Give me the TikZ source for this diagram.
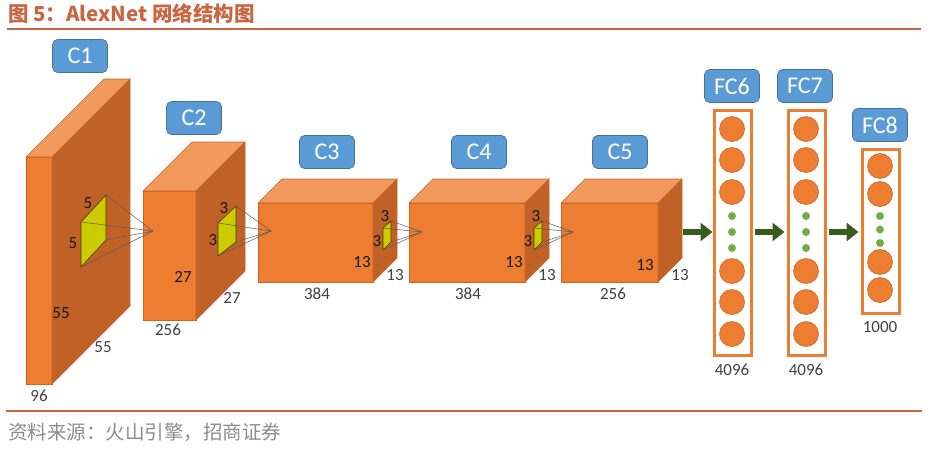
\documentclass[tikz,border=0pt]{standalone}
\usepackage{fontspec}
\setmainfont{Carlito}
\newfontfamily\cjk{Noto Sans CJK SC}
\usepackage{xcolor}
\usepackage{tikz}
\usetikzlibrary{arrows.meta,calc,positioning}
\definecolor{rulered}{RGB}{200,102,68}
\definecolor{cubefront}{RGB}{237,125,49}
\definecolor{cubeside}{RGB}{192,98,40}
\definecolor{cubetop}{RGB}{242,154,94}
\definecolor{cubeedge}{RGB}{205,100,35}
\definecolor{kernelyellow}{RGB}{204,204,0}
\definecolor{tagblue}{RGB}{91,155,213}
\definecolor{tagedge}{RGB}{65,113,156}
\definecolor{flowgreen}{RGB}{56,92,30}
\definecolor{dotgreen}{RGB}{112,173,71}
\tikzset{
	semithick,
	front/.style={fill=cubefront, draw=cubeedge, line width=0.6pt},
	side/.style={fill=cubeside, draw=cubeedge, line width=0.6pt},
	top/.style={fill=cubetop, draw=cubeedge, line width=0.6pt},
	kernel/.style={fill=kernelyellow, draw=black!70!kernelyellow, line width=0.6pt},
	ray/.style={draw=black!65, line width=0.5pt},
	tag/.style={rectangle, rounded corners=5pt, fill=tagblue, draw=tagedge, line width=0.6pt, text=white, inner sep=0pt,
		minimum width=55pt, minimum height=33pt, font=\fontsize{24}{24}\selectfont},
	dim/.style={inner sep=0pt, text=black!75, font=\fontsize{17}{17}\selectfont},
	facedim/.style={inner sep=0pt, text=black!90, font=\fontsize{17}{17}\selectfont},
	fclayer/.style={rectangle, draw=cubefront, line width=3pt, fill=white, inner sep=0pt, minimum width=37pt},
	unit/.style={circle, fill=cubefront, draw=cubeedge, line width=0.6pt, minimum size=25pt, inner sep=0pt},
	gap/.style={circle, fill=dotgreen, minimum size=8pt, inner sep=0pt},
	flow/.style={draw=flowgreen, line width=6pt, -{Triangle[length=12pt,width=18pt]}}
}
% x y w h depth
\newcommand{\cuboid}[5]{
	\filldraw[front] (#1,#2) rectangle ++(#3,#4);
	\filldraw[top] (#1,#2) -- ++(#5,-#5) -- ++(#3,0) -- ++(-#5,#5) -- cycle;
	\filldraw[side] (#1+#3,#2) -- ++(#5,-#5) -- ++(0,#4) -- ++(-#5,#5) -- cycle;
}
\begin{document}
\begin{tikzpicture}[x=1pt,y=-1pt]
	\useasboundingbox (0,0) rectangle (931,448);

	\node[anchor=west, inner sep=0pt, text=rulered, font=\cjk\bfseries\fontsize{20.5}{20.5}\selectfont] (title) at (8,14) {图 5：AlexNet 网络结构图};
	\draw[rulered, line width=2pt] (7,29) -- (921,29);
	\draw[rulered, line width=2pt] (6,411) -- (922,411);
	\node[anchor=west, inner sep=0pt, text=black!45, font=\cjk\fontsize{19.5}{19.5}\selectfont] (source) at (8,432) {资料来源：火山引擎，招商证券};

	\cuboid{26}{157}{26}{227}{78}
	\cuboid{143}{191}{53}{129}{49}
	\cuboid{258}{203}{115}{79}{24}
	\cuboid{409}{203}{116}{79}{24}
	\cuboid{561}{203}{97}{79}{24}

	\coordinate (k1a) at (81,222); \coordinate (k1b) at (106,195);
	\coordinate (k1c) at (106,240); \coordinate (k1d) at (81,267);
	\coordinate (p1) at (153,231);
	\coordinate (k2a) at (218,223); \coordinate (k2b) at (236,206);
	\coordinate (k2c) at (236,242); \coordinate (k2d) at (218,256);
	\coordinate (p2) at (271,231);
	\coordinate (k3a) at (383,228); \coordinate (k3b) at (391,221);
	\coordinate (k3c) at (391,242); \coordinate (k3d) at (383,250);
	\coordinate (p3) at (422,232);
	\coordinate (k4a) at (534,228); \coordinate (k4b) at (542,221);
	\coordinate (k4c) at (542,242); \coordinate (k4d) at (534,250);
	\coordinate (p4) at (573,232);
	\foreach \k in {1,2,3,4}{
		\filldraw[kernel] (k\k a) -- (k\k b) -- (k\k c) -- (k\k d) -- cycle;
		\foreach \c in {a,b,c,d}
			\draw[ray] (k\k\c) -- (p\k);
	}

	\node[tag] (c1) at (80,56) {C1};
	\node[tag] (c2) at (194,118) {C2};
	\node[tag] (c3) at (327,152) {C3};
	\node[tag] (c4) at (479,152) {C4};
	\node[tag] (c5) at (620,152) {C5};
	\node[tag] (fc6tag) at (732,86) {FC6};
	\node[tag] (fc7tag) at (805,86) {FC7};
	\node[tag] (fc8tag) at (880,125) {FC8};

	\node[facedim] (c1k1) at (88,203) {5};
	\node[facedim] (c1k2) at (73,243) {5};
	\node[facedim] (c1h) at (61,313) {55};
	\node[dim] (c1w) at (103,347) {55};
	\node[dim] (c1d) at (39,396) {96};
	\node[facedim] (c2k1) at (224,208) {3};
	\node[facedim] (c2k2) at (213,240) {3};
	\node[facedim] (c2h) at (183,277) {27};
	\node[dim] (c2w) at (232,298) {27};
	\node[dim] (c2d) at (168,330) {256};
	\node[facedim] (c3k1) at (385,216) {3};
	\node[facedim] (c3k2) at (377,241) {3};
	\node[facedim] (c3h) at (362,262) {13};
	\node[dim] (c3w) at (395,275) {13};
	\node[dim] (c3d) at (317,294) {384};
	\node[facedim] (c4k1) at (536,216) {3};
	\node[facedim] (c4k2) at (528,241) {3};
	\node[facedim] (c4h) at (514,262) {13};
	\node[dim] (c4w) at (547,275) {13};
	\node[dim] (c4d) at (468,294) {384};
	\node[facedim] (c5h) at (645,265) {13};
	\node[dim] (c5w) at (680,275) {13};
	\node[dim] (c5d) at (613,294) {256};

	\node[fclayer, minimum height=245pt] (fc6) at (732.5,233) {};
	\node[fclayer, minimum height=245pt] (fc7) at (806.5,233) {};
	\node[fclayer, minimum height=164pt] (fc8) at (880.5,231.5) {};
	\foreach \y in {129,160,192,271,302,334}{
		\node[unit] (u6-\y) at (732,\y) {};
		\node[unit] (u7-\y) at (806,\y) {};
	}
	\foreach \y in {166,194,262,290}
		\node[unit] (u8-\y) at (880,\y) {};
	\foreach \y in {216,232,248}{
		\node[gap] (g6-\y) at (732,\y) {};
		\node[gap] (g7-\y) at (806,\y) {};
	}
	\foreach \y in {216,229.5,243}
		\node[gap] (g8-\y) at (880,\y) {};

	\node[dim] (fc6n) at (732,370) {4096};
	\node[dim] (fc7n) at (806,370) {4096};
	\node[dim] (fc8n) at (880,327) {1000};

	\coordinate (c5out) at (683,232);
	\draw[flow] (c5out) -- (fc6.west |- c5out);
	\draw[flow, shorten <=2pt, shorten >=2pt] (fc6.east |- c5out) -- (fc7.west |- c5out);
	\draw[flow, shorten <=2pt, shorten >=2pt] (fc7.east |- c5out) -- (fc8.west |- c5out);
\end{tikzpicture}
\end{document}
